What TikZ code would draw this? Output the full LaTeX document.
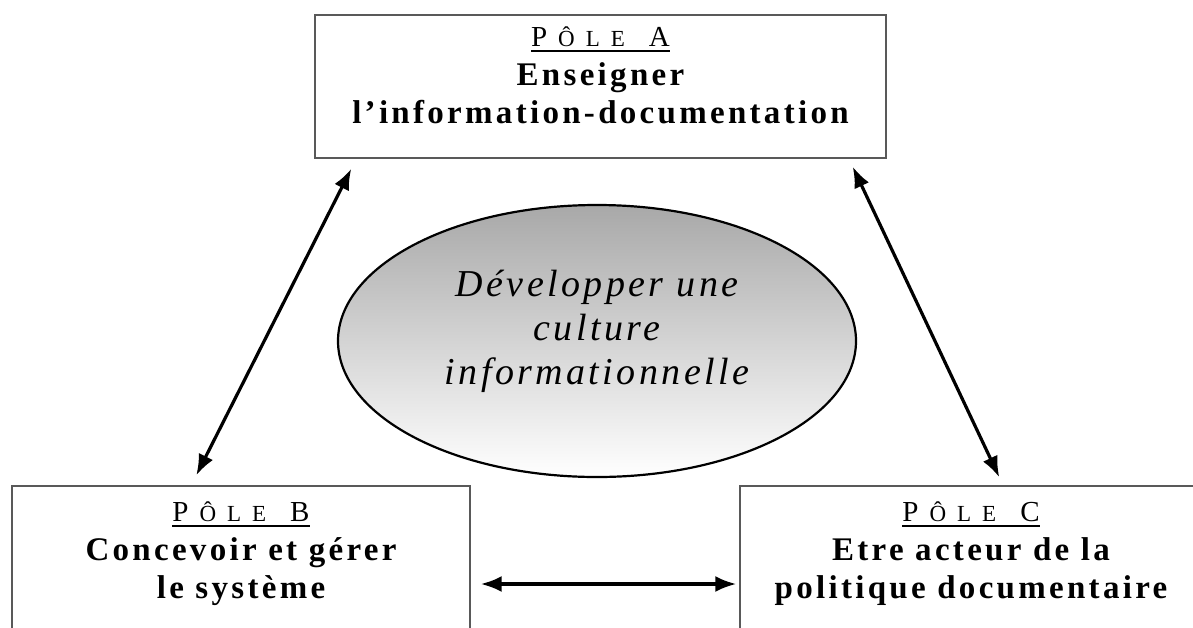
\documentclass[tikz,border=0pt]{standalone}
\usepackage{fontspec}
\setmainfont{Liberation Serif}
\newfontfamily\polefont{Liberation Serif}[LetterSpace=10]
\newfontfamily\polecapsfont{Liberation Serif}
\newfontfamily\culturefont{Liberation Serif}[LetterSpace=9]
\usetikzlibrary{arrows.meta,shapes.geometric}
\colorlet{myframe}{black!65}
\colorlet{myshade}{black!34}
\newcommand{\polehead}[1]{\setbox0\hbox{\polecapsfont\mdseries
  \fontsize{29}{29}\selectfont P\kern11pt
  \fontsize{23}{23}\selectfont Ô\kern11pt L\kern11pt E\kern24pt
  \fontsize{29}{29}\selectfont #1}%
  \rlap{\raisebox{-5pt}{\rule{\wd0}{1.8pt}}}\box0}

\begin{document}
\begin{tikzpicture}[x=1pt,y=-1pt]
\tikzset{PoleBox/.style={draw=myframe, line width=1.4pt, fill=white}}
\tikzset{PoleText/.style={align=center, inner sep=0pt, font=\polefont\bfseries\fontsize{33}{38.5}\selectfont}}
\tikzset{CultureStyle/.style={ellipse, draw=black, line width=2.2pt, minimum width=518pt, minimum height=272pt, top color=myshade, middle color=black!12, bottom color=white}}
\tikzset{CultureText/.style={align=center, inner sep=0pt, font=\culturefont\itshape\fontsize{38}{44}\selectfont}}
\tikzset{LinkStyle/.style={{Latex[length=21pt,width=16pt]}-{Latex[length=21pt,width=16pt]}, line width=3.2pt}}
\useasboundingbox (0,0) rectangle (1193,627);
\clip (0,0) rectangle (1193,627);
% the three poles
\node[PoleBox, minimum width=571pt, minimum height=143pt] (poleA) at (600.5,86.5) {};
\node[PoleBox, minimum width=458pt, minimum height=196pt] (poleB) at (241,584) {};
\node[PoleBox, minimum width=462pt, minimum height=196pt] (poleC) at (971,584) {};
\node[PoleText, anchor=north] (textA) at (600.5,27) {\polehead{A}\\Enseigner\\l’information-documentation};
\node[PoleText, anchor=north] (textB) at (241,502) {\polehead{B}\\Concevoir et gérer\\le système};
\node[PoleText, anchor=north] (textC) at (971,502) {\polehead{C}\\Etre acteur de la\\politique documentaire};
% centre
\node[CultureStyle] (culture) at (597,341) {};
\node[CultureText] (cultureText) at (597,331) {Développer une\\culture\\informationnelle};
% links
\draw[LinkStyle] ([shift={(185pt,10pt)}]poleB.north west) -- ([shift={(37pt,-10pt)}]poleA.south west);
\draw[LinkStyle] ([shift={(260pt,8pt)}]poleC.north west) -- ([shift={(-34pt,-8pt)}]poleA.south east);
\draw[LinkStyle] ([xshift=10pt]poleB.east) -- ([xshift=-3pt]poleC.west);
\end{tikzpicture}
\end{document}
